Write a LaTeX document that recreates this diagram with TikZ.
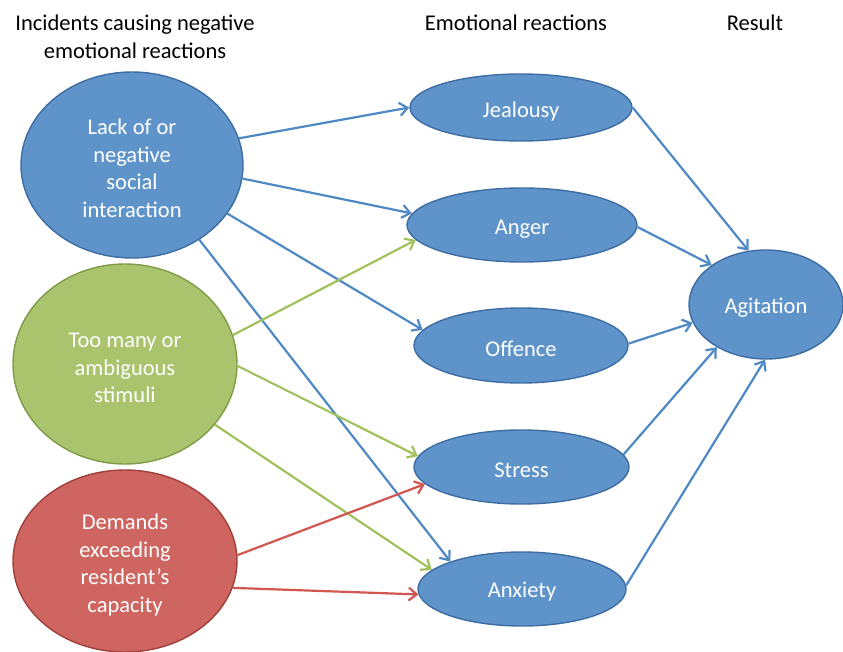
\documentclass[tikz,border=0pt]{standalone}
\usepackage{fontspec}
\setmainfont{Carlito}
\usetikzlibrary{shapes.geometric,arrows.meta}
\definecolor{bfill}{HTML}{5E94C9}
\definecolor{bdraw}{HTML}{3D6DA3}
\definecolor{gfill}{HTML}{A9C46C}
\definecolor{gdraw}{HTML}{809C48}
\definecolor{rfill}{HTML}{CE6560}
\definecolor{rdraw}{HTML}{A0403C}
\definecolor{barrow}{HTML}{4F89C4}
\definecolor{garrow}{HTML}{A0C15C}
\definecolor{rarrow}{HTML}{D0564F}
\tikzset{
  ell/.style={ellipse, inner sep=0pt, line width=1.4pt},
  blueell/.style={ell, fill=bfill, draw=bdraw},
  greenell/.style={ell, fill=gfill, draw=gdraw},
  redell/.style={ell, fill=rfill, draw=rdraw},
  etext/.style={text=white, align=center, inner sep=0pt,
    font=\fontsize{22.5}{27.5}\selectfont},
  title/.style={align=center, font=\fontsize{22.5}{28}\selectfont, inner sep=0pt},
  conn/.style={line width=2.2pt, -{Straight Barb[length=8pt,width=13pt,line width=2.2pt]}},
  bconn/.style={conn, draw=barrow},
  gconn/.style={conn, draw=garrow},
  rconn/.style={conn, draw=rarrow},
}
\begin{document}
\begin{tikzpicture}[x=1pt,y=-1pt]
\useasboundingbox (0,0) rectangle (843,652);
% titles
\node[title] (t1) at (135,37) {Incidents causing negative\\emotional reactions};
\node[title] (t2) at (516,23) {Emotional reactions};
\node[title] (t3) at (755,23) {Result};
% left column
\node[blueell, minimum width=222pt, minimum height=186pt] (lack) at (132,165) {};
\node[greenell, minimum width=224pt, minimum height=200pt] (stim) at (125,364) {};
\node[redell, minimum width=224pt, minimum height=182pt] (dem) at (125,561) {};
% middle column
\node[blueell, minimum width=222pt, minimum height=67pt] (jeal) at (521,107.5) {};
\node[blueell, minimum width=230pt, minimum height=74pt] (ang) at (522,225) {};
\node[blueell, minimum width=214pt, minimum height=75pt] (off) at (521,345.5) {};
\node[blueell, minimum width=215pt, minimum height=74pt] (str) at (521.5,467) {};
\node[blueell, minimum width=208pt, minimum height=74pt] (anx) at (522,589) {};
% right
\node[blueell, minimum width=154pt, minimum height=109pt] (agi) at (766,304.5) {};
% texts
\node[etext] (lack-t) at ([yshift=-3.5pt]lack.center) {Lack of or\\negative\\social\\interaction};
\node[etext] (stim-t) at ([yshift=-4pt]stim.center) {Too many or\\ambiguous\\stimuli};
\node[etext] (dem-t) at ([yshift=-4pt]dem.center) {Demands\\exceeding\\resident’s\\capacity};
\node[etext] (jeal-t) at ([yshift=-4pt]jeal.center) {Jealousy};
\node[etext] (ang-t) at ([yshift=-4pt]ang.center) {Anger};
\node[etext] (off-t) at ([yshift=-3pt]off.center) {Offence};
\node[etext] (str-t) at ([yshift=-3pt]str.center) {Stress};
\node[etext] (anx-t) at ([yshift=-3pt]anx.center) {Anxiety};
\node[etext] (agi-t) at ([yshift=-3pt]agi.center) {Agitation};
% left -> middle
\draw[bconn] (lack.14) -- (jeal.180);
\draw[bconn] (lack.-7) -- (ang.174);
\draw[bconn] (lack.-27) -- (off.171);
\draw[bconn] (lack.-48) -- (anx.159);
\draw[gconn] (stim.15) -- (ang.-172);
\draw[gconn] (stim.-1) -- (str.174);
\draw[gconn] (stim.-34) -- (anx.168);
\draw[rconn] (dem.3) -- (str.-170);
\draw[rconn] (dem.-14) -- (anx.-177);
% middle -> right
\draw[bconn] (jeal.0) -- (agi.108);
\draw[bconn] (ang.-1) -- (agi.144);
\draw[bconn] (off.1) -- (agi.194);
\draw[bconn] (str.7) -- (agi.221);
\draw[bconn] (anx.2) -- (agi.269);
\end{tikzpicture}
\end{document}
